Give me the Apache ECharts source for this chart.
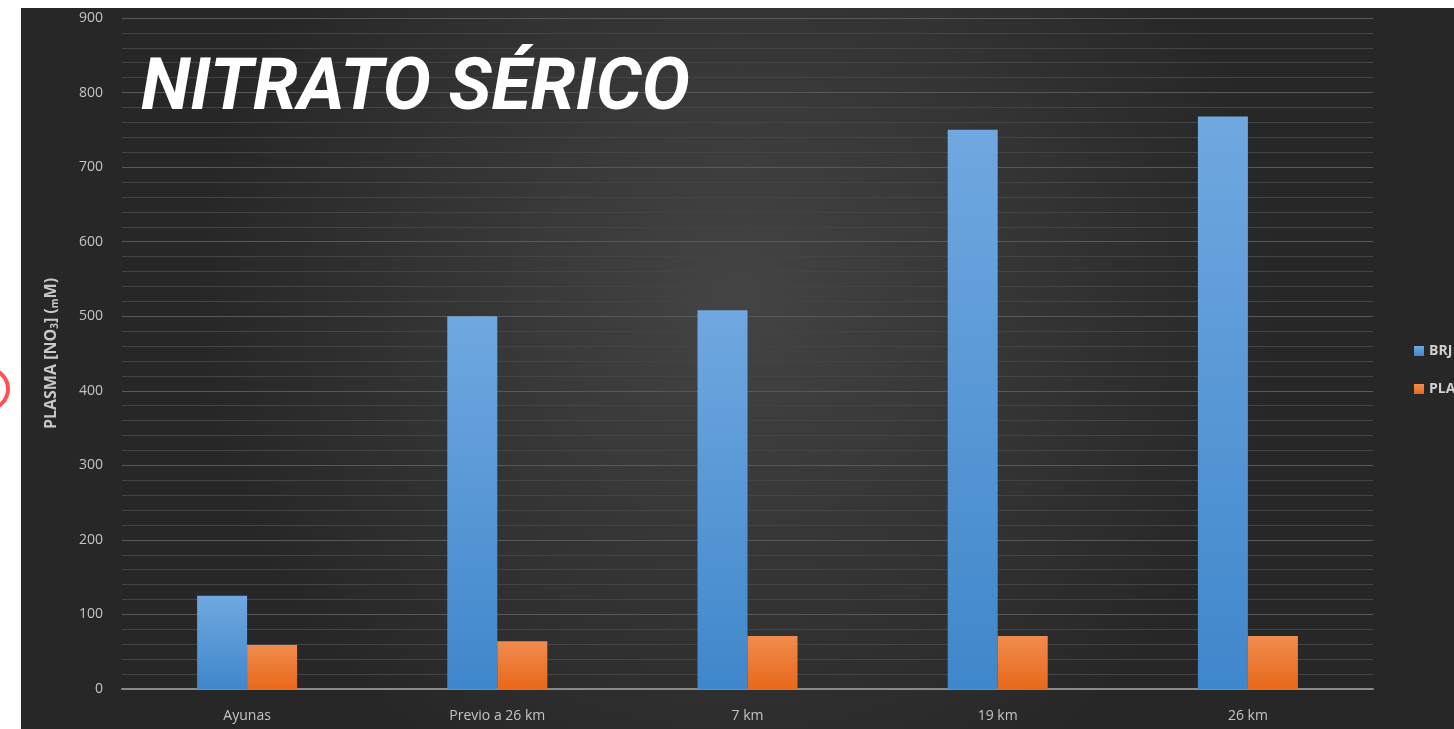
<!DOCTYPE html>
<html>
<head>
<meta charset="utf-8">
<script src="https://cdn.jsdelivr.net/npm/echarts@6/dist/echarts.min.js"></script>
<style>
html,body{margin:0;padding:0;background:#ffffff;}
#chart{width:1454px;height:729px;}
</style>
</head>
<body>
<div id="chart"></div>
<script>
var categories = ['Ayunas', 'Previo a 26 km', '7 km', '19 km', '26 km'];
var brjValues = [125, 500, 508, 750, 768];
var plaValues = [59, 64, 71, 71, 71];
var seriesNames = ['BRJ', 'PLA'];
var titleText = 'NITRATO SÉRICO';

var chart = echarts.init(document.getElementById('chart'));
chart.setOption({
  backgroundColor: '#ffffff',
  graphic: [
    {
      type: 'rect', z: -10, silent: true,
      shape: {x: 21, y: 8, width: 1433, height: 721},
      style: {
        fill: new echarts.graphic.RadialGradient(0.5, 0.4, 0.75, [
          {offset: 0, color: '#444444'},
          {offset: 1, color: '#272727'}
        ])
      }
    },
    {
      type: 'circle', z: 10, silent: true,
      shape: {cx: -12, cy: 389, r: 20},
      style: {fill: 'none', stroke: '#ff5257', lineWidth: 4}
    }
  ],
  title: {
    text: titleText,
    left: 136,
    top: 50,
    textStyle: {
      color: '#ffffff',
      fontSize: 72,
      fontWeight: 'bold',
      fontStyle: 'italic',
      fontFamily: 'Roboto'
    }
  },
  legend: {
    data: seriesNames,
    orient: 'vertical',
    left: 1409,
    top: 339,
    itemWidth: 10,
    itemHeight: 10,
    itemGap: 24,
    icon: 'rect',
    textStyle: {color: '#d0d0d0', fontSize: 14, fontFamily: 'Open Sans', fontWeight: 'bold'}
  },
  grid: {left: 122, right: 81, top: 18, bottom: 40},
  xAxis: {
    type: 'category',
    data: categories,
    axisLine: {lineStyle: {color: '#8a8a8a', width: 2}},
    axisTick: {show: false},
    axisLabel: {color: '#c4c4c4', fontSize: 14, fontFamily: 'Open Sans', margin: 20}
  },
  yAxis: {
    type: 'value',
    min: 0, max: 900, interval: 100,
    name: 'PLASMA [NO{s|3}] ({s|m}M)',
    nameLocation: 'middle',
    nameGap: 62,
    nameRotate: 90,
    nameTextStyle: {
      color: '#c8c8c8', fontSize: 16, fontWeight: 'bold', fontFamily: 'Open Sans',
      rich: {s: {fontSize: 10, fontWeight: 'bold', color: '#c8c8c8', verticalAlign: 'bottom', padding: [7,0,0,0]}}
    },
    axisLine: {show: false},
    axisTick: {show: false},
    axisLabel: {color: '#c4c4c4', fontSize: 14, fontFamily: 'Open Sans', margin: 19},
    splitLine: {lineStyle: {color: '#585858', width: 1}},
    minorTick: {show: false, splitNumber: 5},
    minorSplitLine: {show: true, lineStyle: {color: '#444444', width: 1}}
  },
  series: [
    {
      name: seriesNames[0], type: 'bar', data: brjValues,
      barWidth: 50, barGap: '0%',
      itemStyle: {
        color: new echarts.graphic.LinearGradient(0, 0, 0, 1, [
          {offset: 0, color: '#70a8e0'}, {offset: 1, color: '#3f87cb'}
        ])
      }
    },
    {
      name: seriesNames[1], type: 'bar', data: plaValues,
      barWidth: 50, barGap: '0%',
      itemStyle: {
        color: new echarts.graphic.LinearGradient(0, 0, 0, 1, [
          {offset: 0, color: '#f18b4e'}, {offset: 1, color: '#e8691a'}
        ])
      }
    }
  ]
});
</script>
</body>
</html>
